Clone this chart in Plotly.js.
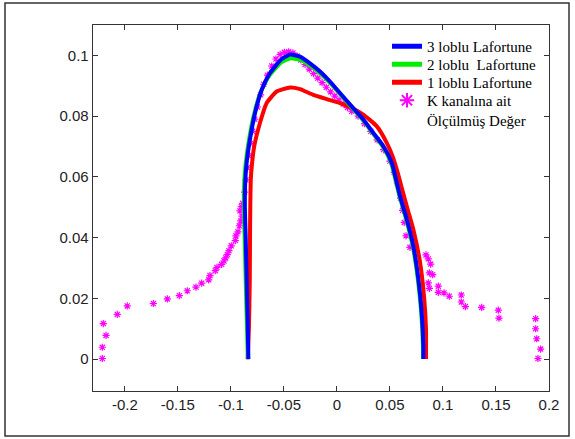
<!DOCTYPE html>
<html>
<head>
<meta charset="utf-8">
<script src="https://cdn.plot.ly/plotly-3.0.1.min.js"></script>
<style>
  html, body { margin: 0; padding: 0; background: #fff; }
  #chart { width: 575px; height: 439px; }
</style>
</head>
<body>
<div id="chart"></div>
<script>
// ---- Data ----
const seriesNames = ["3 loblu Lafortune", "2 loblu&nbsp; Lafortune", "1 loblu Lafortune", "K kanalına ait<br>Ölçülmüş Değer"];

// 3 lobe Lafortune model (blue)
const lobe3X = [-0.0835, -0.0840, -0.0851, -0.0860, -0.0868, -0.0866, -0.0851, -0.0820, -0.0772, -0.0709, -0.0631, -0.0521, -0.0442, -0.0348, -0.0254, -0.0159, -0.0065, 0.0029, 0.0140, 0.0249, 0.0343, 0.0438, 0.0517, 0.0564, 0.0595, 0.0658, 0.0720, 0.0768, 0.0799, 0.0815, 0.0815];
const lobe3Y = [0.0000, 0.0100, 0.0260, 0.0400, 0.0500, 0.0570, 0.0647, 0.0723, 0.0810, 0.0887, 0.0942, 0.0988, 0.1003, 0.0996, 0.0974, 0.0947, 0.0914, 0.0876, 0.0832, 0.0789, 0.0745, 0.0701, 0.0647, 0.0581, 0.0537, 0.0461, 0.0373, 0.0264, 0.0155, 0.0045, 0.0000];

// 2 lobe Lafortune model (green)
const lobe2X = [-0.0840, -0.0848, -0.0860, -0.0870, -0.0878, -0.0876, -0.0860, -0.0830, -0.0782, -0.0718, -0.0638, -0.0525, -0.0445, -0.0350, -0.0256, -0.0162, -0.0068, 0.0026, 0.0136, 0.0245, 0.0339, 0.0433, 0.0512, 0.0559, 0.0590, 0.0653, 0.0715, 0.0763, 0.0795, 0.0811, 0.0812];
const lobe2Y = [0.0000, 0.0100, 0.0260, 0.0400, 0.0500, 0.0570, 0.0645, 0.0720, 0.0805, 0.0880, 0.0933, 0.0977, 0.0990, 0.0986, 0.0967, 0.0942, 0.0910, 0.0874, 0.0830, 0.0787, 0.0743, 0.0699, 0.0645, 0.0580, 0.0536, 0.0460, 0.0372, 0.0263, 0.0154, 0.0045, 0.0000];

// 1 lobe Lafortune model (red)
const lobe1X = [-0.0841, -0.0830, -0.0822, -0.0819, -0.0816, -0.0812, -0.0800, -0.0780, -0.0725, -0.0662, -0.0568, -0.0442, -0.0348, -0.0223, -0.0096, 0.0029, 0.0140, 0.0249, 0.0375, 0.0470, 0.0528, 0.0575, 0.0620, 0.0668, 0.0720, 0.0784, 0.0821, 0.0840, 0.0840];
const lobe1Y = [0.0000, 0.0100, 0.0250, 0.0428, 0.0520, 0.0592, 0.0645, 0.0700, 0.0778, 0.0843, 0.0881, 0.0894, 0.0889, 0.0870, 0.0856, 0.0843, 0.0827, 0.0805, 0.0767, 0.0712, 0.0665, 0.0612, 0.0553, 0.0492, 0.0428, 0.0319, 0.0209, 0.0100, 0.0000];

// measured values, K channel (magenta)
const measX = [-0.2212, -0.2212, -0.2177, -0.2203, -0.2071, -0.1977, -0.1731, -0.1599, -0.1486, -0.1411, -0.1329, -0.1275, -0.1209, -0.1197, -0.1147, -0.1131, -0.1087, -0.1065, -0.1049, -0.1034, -0.1018, -0.0996, -0.0958, -0.0952, -0.0933, -0.0920, -0.0907, -0.0895, -0.0914, -0.0901, -0.0888,
  -0.0870, -0.0858, -0.0845, -0.0832, -0.0815, -0.0795, -0.0775, -0.0750, -0.0720, -0.0690, -0.0655, -0.0615, -0.0575, -0.0535, -0.0495, -0.0455, -0.0415, -0.0375,
  -0.0340, -0.0300, -0.0260, -0.0220, -0.0180, -0.0140, -0.0100, -0.0060, -0.0020, 0.0020, 0.0060, 0.0100, 0.0140, 0.0200, 0.0260, 0.0320, 0.0380, 0.0440, 0.0500, 0.0540, 0.0570, 0.0600, 0.0620, 0.0635,
  0.0652, 0.0689, 0.0840, 0.0862, 0.0884, 0.0872, 0.0903, 0.0862, 0.0872, 0.0956, 0.0956, 0.1010, 0.1060, 0.1173, 0.1173, 0.1211, 0.1365, 0.1522, 0.1528, 0.1874, 0.1874, 0.1884, 0.1921, 0.1896];
const measY = [0.0002, 0.0039, 0.0078, 0.0117, 0.0147, 0.0175, 0.0183, 0.0198, 0.0209, 0.0225, 0.0237, 0.0250, 0.0261, 0.0275, 0.0291, 0.0302, 0.0312, 0.0323, 0.0333, 0.0344, 0.0357, 0.0373, 0.0390, 0.0406, 0.0419, 0.0439, 0.0455, 0.0471, 0.0488, 0.0502, 0.0513,
  0.0550, 0.0590, 0.0630, 0.0670, 0.0710, 0.0750, 0.0790, 0.0830, 0.0870, 0.0905, 0.0935, 0.0965, 0.0988, 0.1003, 0.1010, 0.1012, 0.1008, 0.0998,
  0.0985, 0.0970, 0.0955, 0.0940, 0.0925, 0.0910, 0.0895, 0.0880, 0.0866, 0.0853, 0.0840, 0.0828, 0.0816, 0.0800, 0.0775, 0.0750, 0.0722, 0.0690, 0.0652, 0.0615, 0.0580, 0.0530, 0.0490, 0.0450,
  0.0406, 0.0368, 0.0343, 0.0330, 0.0313, 0.0284, 0.0278, 0.0251, 0.0233, 0.0240, 0.0220, 0.0218, 0.0207, 0.0211, 0.0188, 0.0173, 0.0170, 0.0161, 0.0135, 0.0133, 0.0100, 0.0067, 0.0033, 0.0002];

const xTickVals = [-0.2, -0.15, -0.1, -0.05, 0, 0.05, 0.1, 0.15, 0.2];
const xTickText = ["-0.2", "-0.15", "-0.1", "-0.05", "0", "0.05", "0.1", "0.15", "0.2"];
const yTickVals = [0, 0.02, 0.04, 0.06, 0.08, 0.1];
const yTickText = ["0", "0.02", "0.04", "0.06", "0.08", "0.1"];

// ---- Traces ----
const traces = [
  { x: measX, y: measY, name: seriesNames[3], type: 'scatter', mode: 'markers',
    marker: { symbol: 'asterisk-open', size: 6, color: '#ff00ff', line: { color: '#ff00ff', width: 1.2 } },
    legend: 'legend4' },
  { x: lobe1X, y: lobe1Y, name: seriesNames[2], type: 'scatter', mode: 'lines',
    line: { color: '#ff0000', width: 4, shape: 'spline', smoothing: 0.5 }, legend: 'legend3' },
  { x: lobe2X, y: lobe2Y, name: seriesNames[1], type: 'scatter', mode: 'lines',
    line: { color: '#00ee00', width: 4, shape: 'spline', smoothing: 0.5 }, legend: 'legend2' },
  { x: lobe3X, y: lobe3Y, name: seriesNames[0], type: 'scatter', mode: 'lines',
    line: { color: '#0000ff', width: 4, shape: 'spline', smoothing: 0.5 }, legend: 'legend' }
];

const L = 93, R = 26, T = 25, B = 48, W = 575, H = 439;
const pw = W - L - R, ph = H - T - B;

function legendAt(rowCenterPx) {
  return {
    x: (387 - L) / pw, y: (H - B - (rowCenterPx - 14)) / ph, xanchor: 'left', yanchor: 'top',
    bgcolor: 'rgba(0,0,0,0)', borderwidth: 0,
    font: { family: '"Liberation Serif", "Times New Roman", serif', size: 15, color: '#000' },
    itemsizing: 'constant', valign: 'top'
  };
}

const layout = {
  width: W, height: H,
  margin: { l: L, r: R, t: T, b: B, pad: 0 },
  paper_bgcolor: '#fff', plot_bgcolor: '#fff',
  showlegend: true,
  legend: legendAt(44),
  legend2: legendAt(62),
  legend3: legendAt(80),
  legend4: legendAt(98),
  xaxis: {
    range: [-0.23, 0.2], tickvals: xTickVals, ticktext: xTickText,
    ticks: 'inside', ticklen: 5, tickcolor: '#333', tickwidth: 1,
    showline: true, linecolor: '#333', linewidth: 1.3, mirror: 'ticks',
    showgrid: false, zeroline: false,
    tickfont: { family: '"Liberation Sans", Arial, sans-serif', size: 15, color: '#222' }
  },
  yaxis: {
    range: [-0.0105, 0.11], tickvals: yTickVals, ticktext: yTickText,
    ticks: 'inside', ticklen: 5, tickcolor: '#333', tickwidth: 1,
    showline: true, linecolor: '#333', linewidth: 1.3, mirror: 'ticks',
    showgrid: false, zeroline: false,
    tickfont: { family: '"Liberation Sans", Arial, sans-serif', size: 15, color: '#222' }
  },
  shapes: [{
    type: 'rect', xref: 'paper', yref: 'paper',
    x0: (5 - L) / pw, x1: (569 - L) / pw,
    y0: (H - B - 436) / ph, y1: (H - B - 3) / ph,
    line: { color: '#333', width: 1.5 }, layer: 'below'
  }]
};

Plotly.newPlot('chart', traces, layout, { displayModeBar: false, staticPlot: true });
</script>
</body>
</html>
